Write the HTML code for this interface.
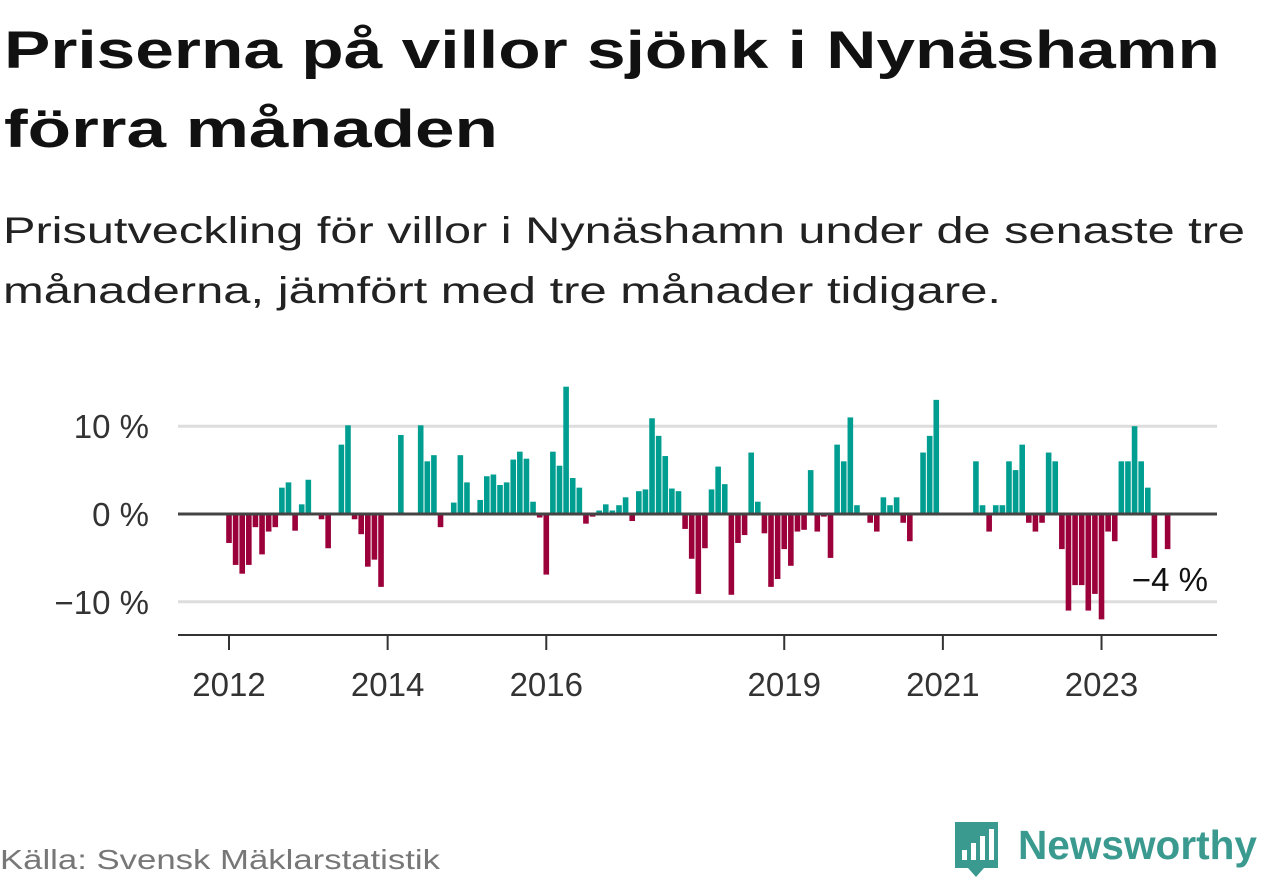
<!DOCTYPE html>
<html><head><meta charset="utf-8"><style>
html,body{margin:0;padding:0;background:#fff;}
svg{display:block;font-family:"Liberation Sans",sans-serif;}
</style></head><body>
<svg id="chart" width="1262" height="879" viewBox="0 0 1262 879">
<text x="4" y="68" font-size="53" font-weight="bold" fill="#111" textLength="1216" lengthAdjust="spacingAndGlyphs">Priserna på villor sjönk i Nynäshamn</text>
<text x="4" y="147" font-size="53" font-weight="bold" fill="#111" textLength="494" lengthAdjust="spacingAndGlyphs">förra månaden</text>
<text x="3" y="243" font-size="37" fill="#222" textLength="1242" lengthAdjust="spacingAndGlyphs">Prisutveckling för villor i Nynäshamn under de senaste tre</text>
<text x="3" y="303" font-size="37" fill="#222" textLength="998" lengthAdjust="spacingAndGlyphs">månaderna, jämfört med tre månader tidigare.</text>
<g id="plot"></g>
<text x="0" y="869" font-size="28" fill="#777" textLength="440" lengthAdjust="spacingAndGlyphs">Källa: Svensk Mäklarstatistik</text>
<g>
<path d="M955 822 H998 V868 H984 L976 877 L968 868 H955 Z" fill="#3a9a8f"/>
<rect x="962" y="850" width="5" height="10" fill="#fff"/>
<rect x="971" y="843" width="5" height="17" fill="#fff"/>
<rect x="980" y="836" width="5" height="24" fill="#fff"/>
<rect x="989" y="829" width="5" height="31" fill="#fff"/>
<text x="1018" y="859" font-size="41" font-weight="bold" fill="#3a9a8f" textLength="239" lengthAdjust="spacingAndGlyphs">Newsworthy</text>
</g>
</svg>
<script>
const values = [-3.3,-5.8,-6.8,-5.8,-1.5,-4.6,-2.0,-1.5,3.0,3.6,-1.9,1.1,3.9,null,-0.6,-3.9,null,7.9,10.1,-0.6,-2.3,-6.0,-5.2,-8.3,
null,null,9.0,null,null,10.1,6.0,6.7,-1.5,null,1.3,6.7,3.6,null,1.6,4.3,4.5,3.3,3.6,6.2,7.1,6.3,1.4,-0.4,
-6.9,7.1,5.5,14.5,4.1,3.0,-1.1,-0.3,0.4,1.1,0.4,1.0,1.9,-0.8,2.6,2.8,10.9,8.9,6.6,2.9,2.6,-1.7,-5.1,-9.1,
-3.9,2.8,5.4,3.4,-9.2,-3.3,-2.4,7.0,1.4,-2.2,-8.3,-7.4,-4.0,-5.9,-2.0,-1.8,5.0,-2.0,-0.3,-5.0,7.9,6.0,11.0,1.0,
null,-1.0,-2.0,1.9,1.0,1.9,-1.0,-3.1,null,7.0,8.9,13.0,null,null,null,null,null,6.0,1.0,-2.0,1.0,1.0,6.0,5.0,7.9,
-1.0,-2.0,-1.0,7.0,6.0,-4.0,-11.0,-8.1,-8.1,-11.0,-9.1,-12.0,-2.0,-3.1,6.0,6.0,10.0,6.0,3.0,-5.0,null,-4.0];
const yTicks = [10,0,-10];
const yTickLabels = ["10 %","0 %","\u221210 %"];
const xTickMonths = [0,24,48,84,108,132];
const xTickLabels = ["2012","2014","2016","2019","2021","2023"];
const lastLabel = "\u22124 %";

const NS="http://www.w3.org/2000/svg";
const g=document.getElementById('plot');
const x=i=>229+i*6.61;
const y=v=>514-v*8.78;
function mk(t,a){const e=document.createElementNS(NS,t);for(const k in a)e.setAttribute(k,a[k]);g.appendChild(e);return e;}
yTicks.forEach((t,k)=>{
  if(t!==0){const l=mk('line',{x1:178,x2:1217,y1:y(t),y2:y(t),stroke:'#ddd','stroke-width':3});
  
  }
  const tx=mk('text',{x:149,y:y(t)+12,'font-size':33,fill:'#333','text-anchor':'end'});
  tx.textContent=yTickLabels[k];
  
  
});
values.forEach((v,i)=>{
  if(v===null)return;
  const r=mk('rect',{x:x(i)-2.8,width:5.6,y:v>=0?y(v):y(0),height:Math.abs(y(v)-y(0)),fill:v>=0?'#009e91':'#9b003a'});
  
  
});
const z=mk('line',{x1:178,x2:1217,y1:y(0),y2:y(0),stroke:'#444','stroke-width':3});


const ax=mk('line',{x1:178,x2:1217,y1:635,y2:635,stroke:'#333','stroke-width':2});


xTickMonths.forEach((m,k)=>{
  const t=mk('line',{x1:x(m),x2:x(m),y1:635,y2:650,stroke:'#333','stroke-width':2});
  
  
  const tx=mk('text',{x:x(m),y:696,'font-size':33,fill:'#333','text-anchor':'middle'});
  tx.textContent=xTickLabels[k];
  
  
});
const ll=mk('text',{x:1208,y:591,'font-size':33,fill:'#111','text-anchor':'end'});
ll.textContent=lastLabel;


</script>
</body></html>
